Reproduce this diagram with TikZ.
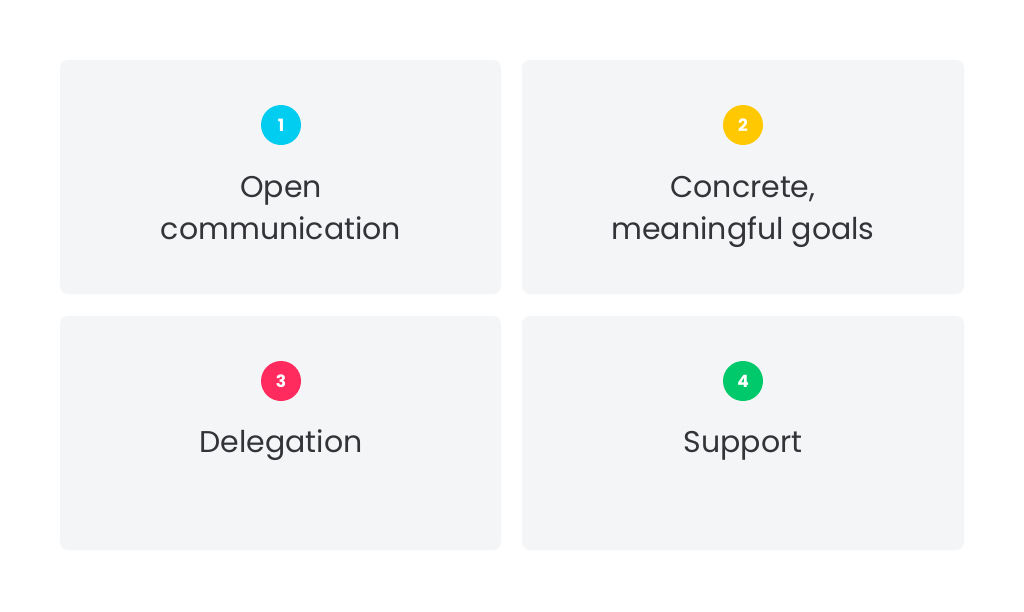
\documentclass[tikz,border=0pt]{standalone}
\usepackage{fontspec}
\setmainfont{Poppins}
\definecolor{boxbg}{HTML}{F4F5F7}
\definecolor{txt}{HTML}{333338}
\definecolor{cA}{HTML}{00CDF0}
\definecolor{cB}{HTML}{FFC800}
\definecolor{cC}{HTML}{FF2A5E}
\definecolor{cD}{HTML}{00C96C}
\tikzset{
  card/.style={fill=boxbg, draw=none, rounded corners=8pt},
  badge/.style={circle, minimum size=40pt, inner sep=0pt, text=white, font=\fontsize{17}{17}\selectfont\bfseries},
  label/.style={anchor=base, text=txt, inner sep=0pt, font=\fontsize{30}{30}\selectfont}
}
\begin{document}
\begin{tikzpicture}[x=1pt,y=-1pt]
\useasboundingbox (0,0) rectangle (1024,611);
\fill[white] (0,0) rectangle (1024,611);
\path[card] (60,60) rectangle (501,294);
\path[card] (522,60) rectangle (964,294);
\path[card] (60,316) rectangle (501,550);
\path[card] (522,316) rectangle (964,550);
\node[badge, fill=cA] (b1) at (281,125) {1};
\node[badge, fill=cB] (b2) at (743,125) {2};
\node[badge, fill=cC] (b3) at (281,381) {3};
\node[badge, fill=cD] (b4) at (743,381) {4};
\node[label] (t1a) at (281,197) {Open};
\node[label] (t1b) at (281,239) {communication};
\node[label] (t2a) at (743,197) {Concrete,};
\node[label] (t2b) at (743,239) {meaningful goals};
\node[label] (t3) at (281,452) {Delegation};
\node[label] (t4) at (743,452) {Support};
\end{tikzpicture}
\end{document}
